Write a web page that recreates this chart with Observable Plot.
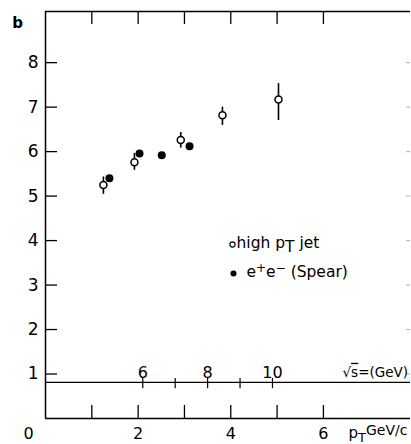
<!DOCTYPE html>
<html><head><meta charset="utf-8">
<script src="https://cdn.jsdelivr.net/npm/d3@7"></script>
<script src="https://cdn.jsdelivr.net/npm/@observablehq/plot@0.6"></script>
<style>body{margin:0;overflow:hidden;background:#fff}</style>
</head><body><div id="chart"></div>
<script>
// high pT jet (open circles) with error bars
const jetPt  = [1.25, 1.92, 2.92, 3.82, 5.03];
const jetB   = [5.25, 5.76, 6.26, 6.82, 7.17];
const jetLo  = [5.04, 5.58, 6.08, 6.59, 6.70];
const jetHi  = [5.43, 5.96, 6.43, 7.00, 7.53];
// e+e- (Spear) filled circles
const spearPt = [1.38, 2.03, 2.51, 3.11];
const spearB  = [5.40, 5.96, 5.92, 6.12];
// axes
const yTicks = [1, 2, 3, 4, 5, 6, 7, 8];
const yTickLabels = ["1", "2", "3", "4", "5", "6", "7", "8"];
const xTicks = [1, 2, 3, 4, 5, 6];
const xTickLabels = ["2", "4", "6"];
const xTickLabelPos = [2, 4, 6];
// secondary sqrt(s) scale
const sqrtsTicks = [6, 7, 8, 9, 10];
const sqrtsPt = [2.1, 2.8, 3.5, 4.2, 4.9];
const sqrtsLabels = ["6", "8", "10"];
const sqrtsLabelPt = [2.1, 3.5, 4.9];
const sqrtsLineB = 0.81;

const W = 411, H = 444, mL = 45, mR = 1, mT = 11, mB = 26;
const xMax = 7.88, yMax = 9.15;
const kx = (W - mL - mR) / xMax, ky = (H - mT - mB) / yMax;
const X = px => (px - mL) / kx;           // pixel -> data (layout helpers)
const Y = py => (H - mB - py) / ky;
const tx = 12 / kx, ty = 13 / ky;
const font = "DejaVu Sans";

const jet = jetPt.map((x, i) => ({x, b: jetB[i], lo: jetLo[i], hi: jetHi[i]}));
const spear = spearPt.map((x, i) => ({x, b: spearB[i]}));
const sq = sqrtsTicks.map((s, i) => ({s, x: sqrtsPt[i]}));
const sqL = sqrtsLabels.map((t, i) => ({t, x: sqrtsLabelPt[i]}));

const plot = Plot.plot({
  width: W, height: H, marginLeft: mL, marginRight: mR, marginTop: mT, marginBottom: mB,
  x: {domain: [0, xMax], axis: null},
  y: {domain: [0, yMax], axis: null},
  style: {fontFamily: font, background: "white", color: "black", overflow: "visible"},
  marks: [
    // frame
    Plot.ruleX([0], {y1: 0, y2: yMax, strokeWidth: 1.5}),
    Plot.ruleY([0, yMax], {x1: 0, x2: xMax, strokeWidth: 1.5}),
    // inward ticks
    Plot.ruleY(yTicks, {x1: 0, x2: tx, strokeWidth: 1.3}),
    Plot.ruleY(yTicks, {x1: X(406), x2: xMax, strokeWidth: 1.2, stroke: "#bbb"}),
    Plot.ruleX(xTicks, {y1: 0, y2: ty, strokeWidth: 1.3}),
    Plot.ruleX(xTicks, {y1: yMax - ty, y2: yMax, strokeWidth: 1.3}),
    // tick labels
    Plot.text(yTicks, {x: 0, y: d => d, text: (d, i) => yTickLabels[i], dx: -7, textAnchor: "end", fontSize: 17}),
    Plot.text(xTickLabelPos, {x: d => d, y: 0, text: (d, i) => xTickLabels[i], dy: 15, fontSize: 16}),
    Plot.text(["0"], {x: 0, y: 0, text: d => d, dx: -17, dy: 15, fontSize: 16}),
    Plot.text(["b"], {x: X(17), y: Y(23), text: d => d, fontSize: 15, fontWeight: "bold"}),
    Plot.text(["pT GeV/c"], {x: X(348), y: Y(433), text: d => d, textAnchor: "start", fontSize: 15}),
    // sqrt(s) scale
    Plot.ruleY([sqrtsLineB], {x1: 0, x2: xMax, strokeWidth: 1.3}),
    Plot.ruleX(sq, {x: "x", y1: sqrtsLineB - 0.14, y2: sqrtsLineB + 0.09, strokeWidth: 1.2}),
    Plot.text(sqL, {x: "x", y: sqrtsLineB, text: "t", dy: -10, fontSize: 16}),
    Plot.text(["√s=(GeV)"], {x: X(342), y: sqrtsLineB, text: d => d, dy: -10, textAnchor: "start", fontSize: 13.5}),
    // data
    Plot.ruleX(jet, {x: "x", y1: "lo", y2: "hi", strokeWidth: 1.6}),
    Plot.dot(jet, {x: "x", y: "b", r: 3.5, fill: "white", stroke: "black", strokeWidth: 1.5}),
    Plot.dot(spear, {x: "x", y: "b", r: 4, fill: "black", stroke: "none"}),
    // legend
    Plot.dot([0], {x: X(232), y: Y(244), r: 2.6, fill: "white", stroke: "black", strokeWidth: 1.1}),
    Plot.text(["high pT jet"], {x: X(236), y: Y(243), text: d => d, textAnchor: "start", fontSize: 15.5}),
    Plot.dot([0], {x: X(233), y: Y(273), r: 3, fill: "black"}),
    Plot.text(["e+e− (Spear)"], {x: X(246), y: Y(272), text: d => d, textAnchor: "start", fontSize: 15.5})
  ]
});

// sub/superscripts as tspans
const svg = d3.select(plot);
function rich(match, parts) {
  svg.selectAll("text").filter(function() { return this.textContent === match; }).each(function() {
    const t = d3.select(this);
    t.text(null);
    parts.forEach(p => {
      const s = t.append("tspan").text(p.t);
      if (p.dy) s.attr("dy", p.dy);
      if (p.fs) s.attr("font-size", p.fs);
      if (p.over) s.attr("text-decoration", "overline");
    });
  });
}
rich("high pT jet", [{t: "high p"}, {t: "T", dy: 4}, {t: " jet", dy: -4}]);
rich("e+e− (Spear)", [{t: "e"}, {t: "+", dy: -5, fs: 12}, {t: "e", dy: 5}, {t: "−", dy: -5, fs: 12}, {t: " (Spear)", dy: 5}]);
rich("pT GeV/c", [{t: "p"}, {t: "T", dy: 4, fs: 13}, {t: "GeV/c", dy: -7, fs: 14}]);
rich("√s=(GeV)", [{t: "√"}, {t: "s", over: true}, {t: "=(GeV)"}]);

document.getElementById("chart").appendChild(plot);
</script>
</body></html>
